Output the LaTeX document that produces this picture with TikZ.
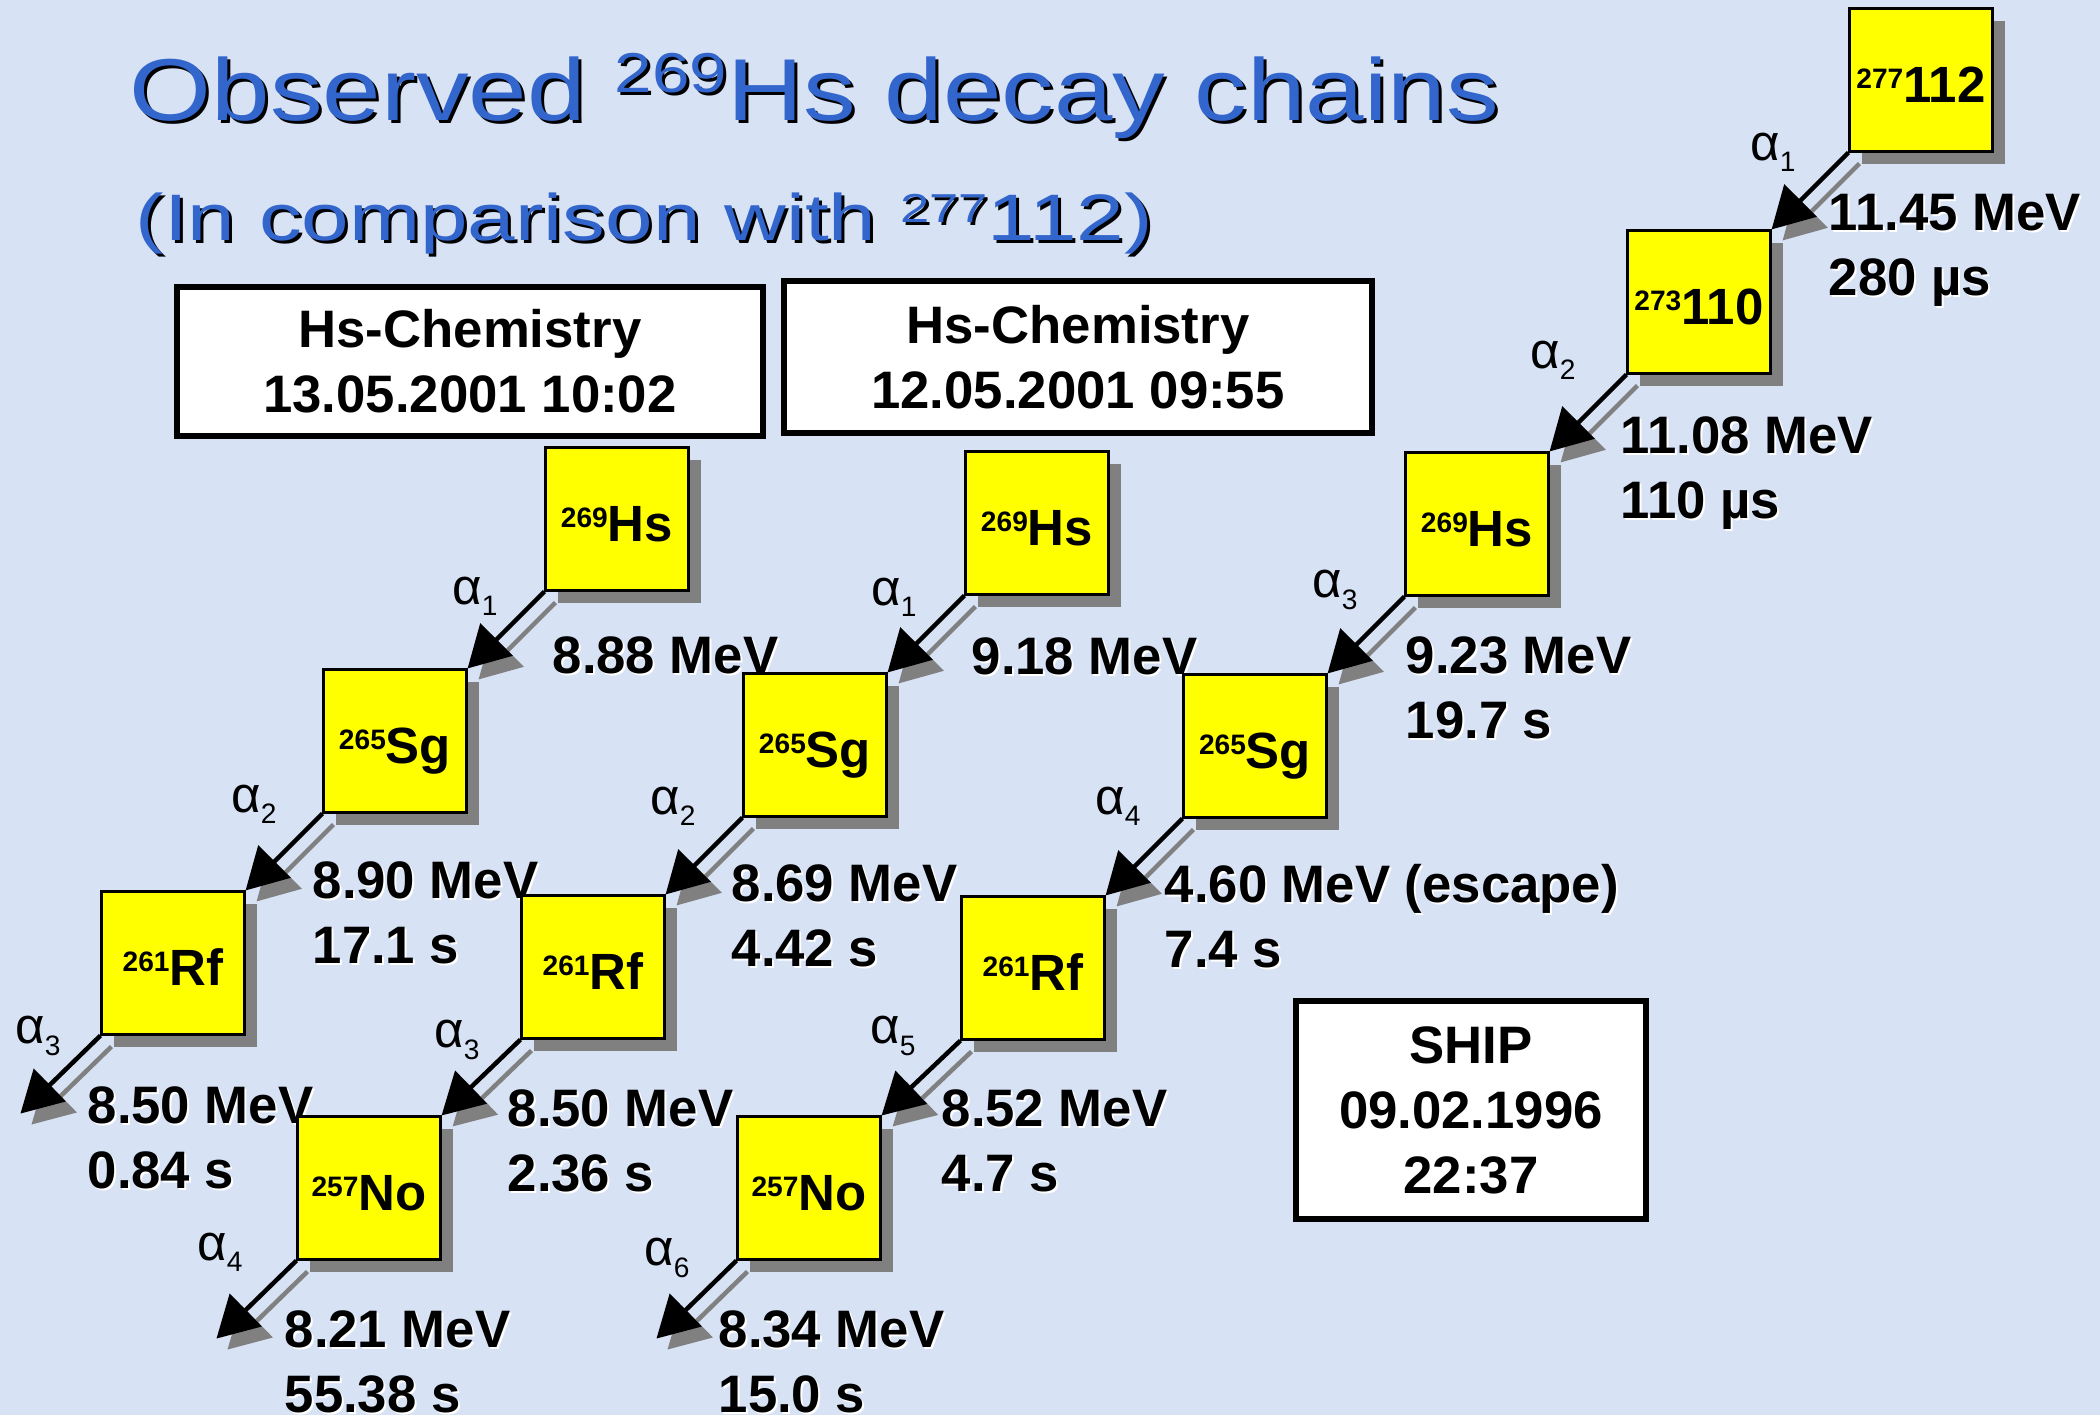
\documentclass[tikz,border=0pt]{standalone}
\usepackage{fontspec}
\setmainfont{Liberation Sans}
\usepackage{graphicx}
\usetikzlibrary{arrows.meta, shadows}
\definecolor{slideBg}   {RGB}{216,226,245}
\definecolor{titleBlue} {RGB}{ 51,102,204}
\definecolor{nucYellow} {RGB}{255,255,  0}
\definecolor{shadowGray}{RGB}{128,128,128}
\newcommand{\nuc}[2]{\raisebox{3.8pt}{\fontsize{8}{8}\selectfont #1}#2}
\newcommand{\alp}[1]{α\raisebox{-3.2pt}{\fontsize{8}{8}\selectfont #1}}
\newcommand{\decaylbl}[3]{%
  \node[elab, text=white] (#1-sh) at ([shift={(2,2)}]#2) {#3};
  \node[elab] (#1) at (#2) {#3};}
\newcommand{\decayarrow}[2]{%
  \draw[decaysh] ([shift={(11,11)}]#1) -- ([shift={(11,11)}]#2);
  \draw[decay] (#1) -- (#2);}

\begin{document}
\begin{tikzpicture}[
  x=0.1mm, y=-0.1mm,
  nucbox/.style={rectangle, draw=black, line width=0.6pt, fill=nucYellow,
    minimum size=14.3mm, inner sep=0pt, text height=12.7pt, text depth=0pt,
    font=\fontsize{14.5}{17}\selectfont\bfseries,
    drop shadow={shadow xshift=1.2mm, shadow yshift=-1.2mm, fill=shadowGray, opacity=1}},
  infobox/.style={rectangle, draw=black, line width=0.6mm, fill=white,
    align=center, inner sep=0pt, font=\fontsize{15}{18.5}\selectfont\bfseries},
  elab/.style={anchor=west, align=left, inner sep=0pt,
    font=\fontsize{15}{18.5}\selectfont\bfseries},
  alab/.style={inner sep=0pt, font=\fontsize{14.5}{17}\selectfont},
  title/.style={anchor=base west, inner sep=0pt, font=\fontsize{25}{30}\selectfont},
  subtitle/.style={title, font=\fontsize{18.7}{22}\selectfont},
  decay/.style={-{Triangle[length=4.1mm, width=4.5mm]}, line width=0.45mm, draw=black},
  decaysh/.style={decay, draw=shadowGray},
]
%% Units are pixels of the 2100 x 1415 slide, y running down
\def\bx{-80} \def\by{78}   % free end of a last decay arrow

%% ── Slide background ────────────────────────────────────────────────────────
\useasboundingbox (0,0) rectangle (2100,1415);
\fill[slideBg] (0,0) rectangle (2100,1415);

%% ── Title lines (black shadow under blue) ───────────────────────────────────
\node[title, text=black] (title-sh) at (132,123)
  {\scalebox{1.197}[1]{Observed \raisebox{7.7pt}{\fontsize{16}{16}\selectfont 269}Hs decay chains}};
\node[title, text=titleBlue] (title) at (129,120)
  {\scalebox{1.197}[1]{Observed \raisebox{7.7pt}{\fontsize{16}{16}\selectfont 269}Hs decay chains}};
\node[subtitle, text=black] (sub-sh) at (138,243)
  {\scalebox{1.30}[1]{(In comparison with \raisebox{5.1pt}{\fontsize{11.5}{11.5}\selectfont 277}112)}};
\node[subtitle, text=titleBlue] (sub) at (135,240)
  {\scalebox{1.30}[1]{(In comparison with \raisebox{5.1pt}{\fontsize{11.5}{11.5}\selectfont 277}112)}};

%% ── Experiment boxes ────────────────────────────────────────────────────────
\node[infobox, minimum width=58.6mm, minimum height=14.9mm] (chemA) at (470,361)
  {Hs-Chemistry\\13.05.2001 10:02};
\node[infobox, minimum width=58.8mm, minimum height=15.2mm] (chemB) at (1078,357)
  {Hs-Chemistry\\12.05.2001 09:55};
\node[infobox, minimum width=35.0mm, minimum height=21.8mm] (ship) at (1471,1110)
  {SHIP\\09.02.1996\\22:37};

%% ── Chain A: 13.05.2001 ─────────────────────────────────────────────────────
\node[nucbox] (hsA) at (617,519) {\nuc{269}{Hs}};
\node[nucbox] (sgA) at (395,741) {\nuc{265}{Sg}};
\node[nucbox] (rfA) at (173,963) {\nuc{261}{Rf}};
\coordinate (endA) at ([shift={(\bx,\by)}]rfA.south west);

\decayarrow{hsA.south west}{sgA.north east}
\decayarrow{sgA.south west}{rfA.north east}
\decayarrow{rfA.south west}{endA}

\node[alab] (aA1) at (475,596)  {\alp{1}};
\node[alab] (aA2) at (254,804)  {\alp{2}};
\node[alab] (aA3) at (38,1036)  {\alp{3}};
\decaylbl{eA1}{552,655}{8.88 MeV}
\decaylbl{eA2}{312,913}{8.90 MeV\\17.1 s}
\decaylbl{eA3}{87,1138}{8.50 MeV\\0.84 s}

%% ── Chain B: 12.05.2001 ─────────────────────────────────────────────────────
\node[nucbox] (hsB) at (1037,523) {\nuc{269}{Hs}};
\node[nucbox] (sgB) at (815,745)  {\nuc{265}{Sg}};
\node[nucbox] (rfB) at (593,967)  {\nuc{261}{Rf}};
\node[nucbox] (noB) at (369,1188) {\nuc{257}{No}};
\coordinate (endB) at ([shift={(\bx,\by)}]noB.south west);

\decayarrow{hsB.south west}{sgB.north east}
\decayarrow{sgB.south west}{rfB.north east}
\decayarrow{rfB.south west}{noB.north east}
\decayarrow{noB.south west}{endB}

\node[alab] (aB1) at (894,597)  {\alp{1}};
\node[alab] (aB2) at (673,806)  {\alp{2}};
\node[alab] (aB3) at (457,1040) {\alp{3}};
\node[alab] (aB4) at (220,1252) {\alp{4}};
\decaylbl{eB1}{971,656}{9.18 MeV}
\decaylbl{eB2}{731,916}{8.69 MeV\\4.42 s}
\decaylbl{eB3}{507,1141}{8.50 MeV\\2.36 s}
\decaylbl{eB4}{284,1362}{8.21 MeV\\55.38 s}

%% ── Chain C: SHIP 277112 ────────────────────────────────────────────────────
\node[nucbox] (eo112) at (1921,80)  {\nuc{277}{112}};
\node[nucbox] (eo110) at (1699,302) {\nuc{273}{110}};
\node[nucbox] (hsC)   at (1477,524) {\nuc{269}{Hs}};
\node[nucbox] (sgC)   at (1255,746) {\nuc{265}{Sg}};
\node[nucbox] (rfC)   at (1033,968) {\nuc{261}{Rf}};
\node[nucbox] (noC)   at (809,1188) {\nuc{257}{No}};
\coordinate (endC) at ([shift={(\bx,\by)}]noC.south west);

\decayarrow{eo112.south west}{eo110.north east}
\decayarrow{eo110.south west}{hsC.north east}
\decayarrow{hsC.south west}{sgC.north east}
\decayarrow{sgC.south west}{rfC.north east}
\decayarrow{rfC.south west}{noC.north east}
\decayarrow{noC.south west}{endC}

\node[alab] (aC1) at (1773,152) {\alp{1}};
\node[alab] (aC2) at (1553,360) {\alp{2}};
\node[alab] (aC3) at (1335,590) {\alp{3}};
\node[alab] (aC4) at (1118,806) {\alp{4}};
\node[alab] (aC5) at (893,1036) {\alp{5}};
\node[alab] (aC6) at (667,1258) {\alp{6}};
\decaylbl{eC1}{1828,250}{11.45 MeV\\280 µs}
\decaylbl{eC2}{1620,473}{11.08 MeV\\110 µs}
\decaylbl{eC3}{1405,688}{9.23 MeV\\19.7 s}
\decaylbl{eC4}{1164,916}{4.60 MeV (escape)\\7.4 s}
\decaylbl{eC5}{941,1141}{8.52 MeV\\4.7 s}
\decaylbl{eC6}{718,1362}{8.34 MeV\\15.0 s}

\end{tikzpicture}
\end{document}
